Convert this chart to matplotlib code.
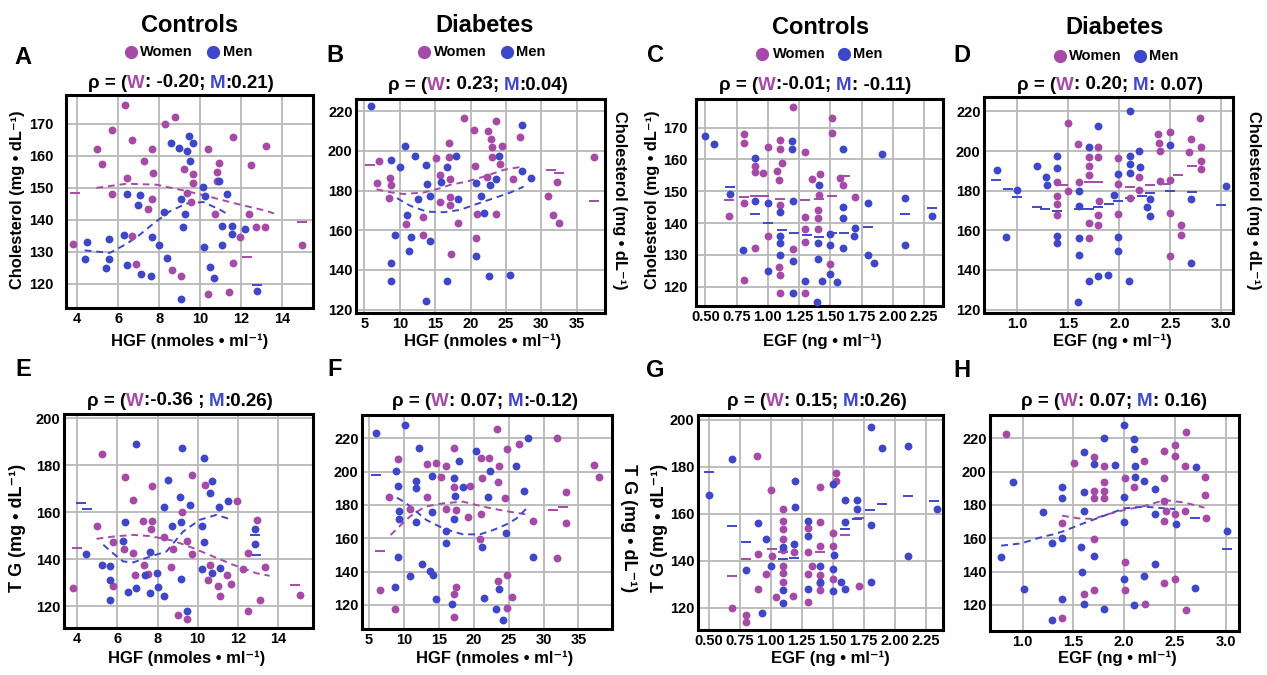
import matplotlib
matplotlib.use('Agg')
import matplotlib.pyplot as plt
from matplotlib.lines import Line2D

plt.rcParams['font.family'] = ['Liberation Sans', 'DejaVu Sans']
plt.rcParams['font.weight'] = 'bold'

W, H = 1267, 675
women_c = '#a54ba7'
men_c = '#3f47c9'

# ---- panel A : cholesterol vs HGF, controls
a_wx = [6.33, 8.76, 8.28, 5.72, 4.98, 6.68, 7.63, 5.22, 7.27, 7.71, 6.41, 9.2, 9.66, 9.66, 5.72, 9.37, 9.53, 7.63, 7.46, 10.4,
        11.6, 13.2, 10.9, 10.8, 12.5, 10.8, 10.7, 12.4, 12.7, 13.15, 11.95, 11.6, 11.4, 10.36, 9.06, 8.62, 6.89, 6.67, 3.8, 14.94]
a_wy = [176.0, 172.1, 169.8, 168.2, 162.2, 164.9, 162.2, 157.6, 158.3, 154.7, 153.1, 156.0, 154.2, 151.6, 148.2, 148.4, 145.6, 146.4, 143.5, 162.2,
        166.0, 163.0, 157.8, 155.0, 157.0, 152.1, 141.7, 141.7, 137.7, 137.7, 134.7, 126.4, 117.5, 116.9, 122.6, 124.3, 126.3, 135.1, 132.5, 132.1]
a_mx = [9.46, 9.66, 8.57, 8.98, 9.38, 9.5, 10.15, 10.93, 10.23, 11.33, 9.09, 9.25, 8.24, 6.41, 7.06, 6.98, 7.63, 7.97, 9.17, 6.29,
        5.56, 4.5, 4.37, 5.54, 5.4, 6.44, 7.14, 7.59, 8.36, 9.09, 10.2, 11.04, 11.08, 11.53, 11.53, 12.2, 10.5, 10.65, 12.75]
a_my = [166.1, 163.9, 164.1, 162.3, 161.4, 158.5, 150.2, 152.3, 147.4, 148.2, 146.4, 141.7, 142.5, 148.1, 147.7, 144.8, 134.6, 132.1, 137.8, 135.4,
        134.1, 133.0, 127.8, 127.8, 125.0, 126.0, 123.2, 122.4, 128.1, 115.3, 131.6, 132.1, 138.2, 138.0, 135.5, 137.3, 125.3, 121.9, 117.7]
a_wfx = [4.94, 6.41, 7.87, 9.33, 10.31, 11.61, 13.24, 13.6]
a_wfy = [150.0, 151.3, 151.0, 149.0, 147.5, 145.3, 142.8, 142.0]
a_mfx = [4.37, 5.59, 6.41, 7.06, 7.71, 8.52, 9.33, 10.15, 10.96, 11.45]
a_mfy = [130.5, 129.7, 132.5, 135.4, 138.8, 142.7, 145.1, 145.6, 143.2, 141.4]
a_wdx, a_wdy = [3.9, 12.26, 14.94], [148.5, 128.3, 139.3]
a_mdx, a_mdy = [12.75], [119.6]

# ---- panel B : cholesterol vs HGF, diabetes
b_wx = [37.4, 19.0, 23.6, 20.5, 22.5, 27.0, 22.9, 23.0, 16.9, 24.5, 23.0, 16.9, 15.1, 20.6, 24.2, 7.1, 8.6, 8.7, 6.7, 8.4,
        15.7, 17.1, 22.3, 26.0, 32.2, 31.0, 15.7, 17.1, 17.1, 13.3, 10.8, 13.3, 18.2, 20.9, 23.6, 31.6, 32.5, 20.7, 17.2]
b_wy = [197.2, 216.6, 214.9, 210.4, 209.9, 206.8, 206.2, 201.8, 204.0, 202.6, 197.2, 197.2, 196.7, 192.2, 193.4, 194.7, 186.6, 182.9, 183.7, 176.2,
        188.0, 185.9, 187.1, 185.8, 184.1, 177.3, 174.1, 177.0, 172.8, 166.9, 163.2, 157.6, 163.8, 168.1, 168.1, 167.6, 163.8, 155.9, 147.8]
b_mx = [5.9, 27.2, 10.7, 8.8, 10.0, 12.2, 17.9, 13.7, 16.7, 24.0, 27.2, 28.5, 23.6, 15.8, 13.8, 20.8, 22.8, 14.3, 21.4, 12.5,
        18.2, 11.0, 21.9, 9.3, 11.6, 14.3, 11.3, 20.8, 8.7, 8.7, 16.6, 22.6, 25.6, 13.7]
b_my = [222.9, 213.3, 202.6, 195.5, 191.8, 197.6, 197.6, 192.7, 191.7, 197.6, 190.0, 186.3, 185.9, 184.1, 183.2, 183.7, 182.6, 177.3, 177.5, 175.6,
        175.8, 167.6, 168.6, 157.6, 156.4, 154.6, 149.7, 147.0, 143.3, 134.5, 134.3, 137.2, 137.7, 124.2]
b_wfx = [6.7, 8.6, 10.5, 13.3, 15.2, 17.1, 19.5, 21.8, 24.7, 27.5]
b_wfy = [180.7, 179.2, 178.3, 179.0, 180.7, 182.9, 184.6, 187.0, 190.5, 192.2]
b_mfx = [9.6, 11.5, 13.8, 16.2, 18.5, 20.9, 23.3, 25.6, 27.5]
b_mfy = [176.2, 172.3, 169.4, 169.1, 170.3, 173.3, 176.2, 179.0, 182.0]
b_wdx, b_wdy = [5.8, 31.3, 32.5, 37.4], [193.0, 190.5, 188.8, 174.8]
b_mdx, b_mdy = [], []

# ---- panel C : cholesterol vs EGF, controls
c_wx = [1.20, 1.51, 1.51, 0.81, 0.81, 1.10, 1.00, 1.10, 1.30, 0.90, 0.96, 0.90, 1.07, 1.11, 1.09, 1.35, 1.42, 1.58, 1.60, 1.41,
        1.70, 0.81, 1.10, 0.69, 1.40, 1.40, 1.30, 1.30, 1.40, 1.00, 1.30, 0.90, 1.20, 1.09, 1.10, 1.50, 0.81, 1.10, 1.30]
c_wy = [176.4, 172.9, 168.4, 167.9, 165.3, 166.1, 163.8, 163.3, 162.2, 157.9, 155.6, 156.0, 156.2, 158.8, 153.5, 153.9, 155.3, 154.3, 151.8, 148.9,
        148.1, 146.2, 145.7, 142.2, 144.1, 141.6, 141.8, 138.2, 138.2, 136.0, 133.9, 132.1, 131.8, 126.3, 123.7, 127.1, 122.1, 117.9, 117.9]
c_mx = [0.50, 0.57, 1.19, 1.19, 1.60, 1.91, 0.90, 1.41, 0.70, 0.90, 1.00, 1.20, 1.60, 2.10, 1.80, 2.31, 1.10, 1.60, 1.70, 1.69,
        1.50, 1.50, 1.60, 1.10, 1.10, 1.40, 2.10, 0.80, 1.10, 1.40, 1.20, 1.80, 1.85, 1.00, 1.50, 1.43, 1.55, 1.30, 1.20, 1.39]
c_my = [167.5, 164.9, 165.9, 163.4, 163.3, 161.7, 160.6, 151.8, 149.0, 147.0, 146.2, 147.0, 144.9, 148.0, 146.4, 142.2, 143.4, 141.5, 138.4, 136.0,
        136.5, 133.1, 132.1, 136.0, 133.6, 133.8, 133.1, 131.5, 130.0, 128.6, 128.1, 130.0, 127.3, 124.9, 123.9, 121.9, 121.4, 121.9, 117.9, 115.1]
c_wfx = [0.69, 0.81, 0.90, 0.97, 1.10, 1.30, 1.41, 1.51, 1.62]
c_wfy = [147.3, 148.3, 148.6, 148.5, 147.6, 147.3, 147.5, 148.6, 154.9]
c_mfx = [0.70, 0.90, 1.00, 1.11, 1.21, 1.31, 1.41, 1.51, 1.61, 1.80, 2.10, 2.31]
c_mfy = [151.4, 142.9, 140.1, 137.8, 136.8, 136.2, 135.7, 136.8, 136.8, 138.9, 142.9, 144.6]

# ---- panel D : cholesterol vs EGF, diabetes
d_wx = [1.50, 2.79, 2.50, 2.38, 2.39, 2.40, 1.59, 1.79, 1.70, 1.79, 1.70, 1.70, 1.99, 2.70, 2.68, 2.80, 2.80, 2.80, 2.19, 2.40,
        2.50, 1.39, 1.60, 1.39, 1.50, 1.99, 2.19, 2.10, 1.39, 1.39, 1.80, 1.79, 1.99, 1.70, 1.79, 1.70, 2.50, 2.60, 2.60, 2.50]
d_wy = [214.4, 216.8, 209.5, 208.4, 204.3, 200.3, 203.5, 202.3, 197.2, 197.2, 192.7, 187.8, 196.4, 206.2, 199.6, 202.3, 195.0, 190.8, 186.8, 184.9,
        185.4, 184.2, 184.6, 177.5, 180.0, 183.4, 180.4, 176.2, 173.1, 167.7, 174.6, 167.7, 168.1, 163.5, 162.7, 156.3, 168.6, 162.5, 157.9, 147.2]
d_mx = [2.10, 1.79, 2.50, 1.70, 1.39, 2.10, 2.19, 1.19, 1.39, 1.28, 1.29, 2.10, 1.99, 2.10, 2.20, 0.80, 1.00, 1.60, 1.95, 2.30,
        2.70, 2.27, 2.30, 3.05, 1.60, 0.89, 1.39, 1.39, 1.60, 1.99, 1.99, 1.60, 2.70, 1.70, 1.79, 1.89, 2.09, 1.59]
d_my = [220.0, 212.7, 203.1, 202.3, 197.6, 197.6, 200.1, 192.5, 191.7, 187.1, 182.9, 193.4, 188.3, 189.1, 192.2, 190.5, 180.4, 180.0, 177.8, 175.8,
        175.8, 171.6, 167.2, 182.6, 172.3, 156.4, 157.4, 153.6, 156.3, 156.9, 149.5, 147.5, 143.3, 134.3, 136.9, 137.4, 134.7, 123.9]
d_wfx = [1.45, 1.70, 1.79, 2.10, 2.30, 2.45, 2.58, 2.71]
d_wfy = [182.9, 184.6, 184.2, 182.1, 182.9, 183.4, 188.0, 192.7]
d_mfx = [0.79, 0.91, 1.0, 1.19, 1.27, 1.39, 1.60, 1.70, 1.79, 1.90, 1.99, 2.10, 2.22, 2.30, 2.50, 2.71, 3.0]
d_mfy = [185.4, 180.9, 176.7, 171.9, 170.8, 169.9, 170.6, 171.0, 171.9, 173.3, 174.8, 176.2, 177.4, 178.7, 180.0, 179.2, 172.9]

# ---- panel E : TG vs HGF, controls
e_wx = [5.21, 6.40, 9.69, 7.73, 10.35, 6.79, 11.96, 4.96, 7.28, 7.73, 7.65, 9.22, 5.76, 6.32, 6.79, 8.33, 8.78, 9.47, 9.69, 7.33,
        6.87, 7.50, 8.69, 10.63, 10.51, 11.0, 11.1, 11.48, 11.64, 12.26, 12.51, 12.96, 13.37, 13.12, 12.51, 5.79, 3.80, 9.02, 9.47, 15.08]
e_wy = [184.8, 175.2, 175.9, 171.0, 171.7, 165.3, 165.0, 154.2, 156.1, 156.4, 153.0, 160.1, 147.3, 144.5, 142.9, 149.7, 144.5, 147.6, 142.1, 137.4,
        133.4, 133.9, 136.7, 137.7, 131.3, 128.5, 124.5, 133.4, 129.6, 135.8, 142.6, 156.8, 136.7, 122.8, 118.1, 128.5, 127.8, 116.4, 114.7, 124.9]
e_mx = [6.95, 9.22, 10.32, 8.53, 10.73, 10.60, 9.14, 9.61, 11.06, 11.53, 8.31, 6.40, 9.17, 8.73, 10.19, 10.31, 12.87, 12.87, 6.29, 7.62,
        4.46, 5.24, 5.63, 5.63, 5.63, 10.22, 10.73, 11.13, 9.16, 7.98, 8.0, 7.35, 6.95, 6.54, 7.62, 8.33, 9.47]
e_my = [189.0, 187.5, 183.3, 173.8, 173.1, 168.1, 166.3, 163.2, 162.2, 165.0, 162.2, 155.7, 155.8, 154.3, 154.3, 147.2, 153.0, 146.6, 147.9, 143.1,
        142.4, 137.4, 137.0, 131.3, 122.5, 135.8, 134.4, 136.5, 131.7, 134.1, 128.2, 133.3, 128.0, 126.3, 125.6, 124.6, 118.1]
e_wfx = [4.96, 5.79, 6.79, 7.62, 8.78, 9.77, 10.77, 11.76, 12.92, 13.58]
e_wfy = [148.7, 149.7, 150.4, 149.9, 147.9, 144.8, 141.2, 137.7, 134.1, 133.0]
e_mfx = [5.3, 5.63, 6.29, 6.79, 7.78, 8.44, 9.27, 10.10, 10.93, 11.6]
e_mfy = [146.2, 143.6, 139.1, 138.7, 141.6, 143.3, 151.8, 156.8, 158.9, 157.1]
e_wdx, e_wdy = [4.0, 14.83], [144.8, 129.2]
e_mdx, e_mdy = [4.2, 4.5, 12.84, 12.92], [163.9, 161.5, 150.4, 141.9]

# ---- panel F : TG vs HGF, diabetes
f_wx = [23.37, 31.89, 26.53, 24.71, 17.20, 21.03, 22.18, 9.16, 13.33, 14.57, 16.0, 23.61, 37.25, 37.97, 15.28, 21.22, 23.52, 17.15, 19.45, 7.87,
        13.33, 24.47, 33.2, 10.84, 16.0, 17.44, 19.16, 21.03, 28.49, 33.25, 20.89, 31.89, 23.52, 24.71, 17.39, 17.20, 25.43, 6.53, 8.68, 24.71, 17.20]
f_wy = [225.4, 220.0, 216.4, 213.6, 214.4, 208.0, 208.0, 207.4, 204.4, 205.4, 203.6, 203.6, 204.0, 196.6, 197.0, 196.0, 194.0, 190.6, 191.4, 185.0,
        184.6, 184.4, 187.6, 177.6, 177.6, 177.0, 173.0, 174.6, 170.4, 169.4, 159.6, 148.4, 134.6, 138.0, 130.6, 126.4, 124.6, 129.0, 117.4, 118.0, 112.6]
f_mx = [6.05, 10.22, 12.18, 27.82, 20.31, 17.92, 22.32, 26.05, 8.92, 11.70, 14.09, 17.15, 9.21, 11.70, 18.49, 17.30, 22.03, 27.25, 9.31, 9.31,
        14.0, 11.70, 17.15, 16.0, 16.0, 21.22, 24.62, 28.49, 9.16, 12.61, 13.71, 10.84, 14.14, 8.78, 14.57, 16.91, 21.46, 23.66, 23.13, 24.14]
f_my = [223.4, 228.0, 214.4, 220.4, 212.6, 206.4, 200.4, 203.6, 200.4, 194.6, 197.4, 196.0, 191.6, 190.0, 190.6, 185.4, 184.6, 188.4, 176.4, 171.6,
        175.6, 170.0, 171.4, 164.6, 157.4, 154.6, 163.0, 149.0, 149.0, 144.4, 140.6, 137.4, 138.0, 130.6, 123.4, 120.4, 124.0, 129.6, 117.4, 111.0]
f_wfx = [8.1, 9.16, 10.84, 12.99, 15.62, 18.49, 21.36, 23.75, 25.67, 28.06]
f_wfy = [162.0, 166.4, 173.0, 179.0, 181.0, 182.0, 179.0, 177.0, 175.6, 174.0]
f_mfx = [9.0, 10.36, 11.79, 13.23, 15.14, 17.06, 18.49, 20.89, 22.80, 24.71, 26.15, 27.58]
f_mfy = [184.4, 181.0, 176.0, 171.0, 167.0, 164.0, 162.4, 162.4, 165.0, 168.4, 172.0, 178.0]
f_wdx, f_wdy = [6.53, 31.4, 32.85], [152.6, 177.0, 179.0]
f_mdx, f_mdy = [6.05], [198.0]

# ---- panel G : TG vs EGF, controls
g_wx = [0.89, 1.00, 1.10, 1.10, 1.10, 1.10, 1.10, 1.10, 1.10, 1.10, 1.40, 1.53, 1.53, 1.40, 1.30, 1.50, 1.40, 1.50, 1.19, 1.30,
        0.90, 1.01, 1.33, 1.30, 1.40, 1.50, 0.96, 0.90, 1.04, 1.18, 1.30, 1.40, 1.40, 1.71, 0.69, 0.80, 0.80]
g_wy = [184.8, 170.2, 162.1, 157.0, 153.4, 149.3, 144.6, 137.9, 134.7, 131.1, 171.3, 177.3, 174.0, 156.7, 154.1, 152.0, 146.4, 146.4, 143.6, 143.6,
        142.9, 142.2, 137.9, 134.2, 133.9, 132.1, 134.2, 128.0, 124.7, 125.0, 122.6, 127.6, 130.7, 129.1, 120.0, 116.9, 114.1]
g_mx = [1.81, 1.90, 2.11, 0.69, 0.50, 1.20, 1.20, 1.50, 1.60, 1.70, 1.70, 1.60, 1.81, 2.34, 0.90, 1.30, 1.30, 1.19, 1.10, 0.96,
        1.51, 2.11, 0.80, 1.00, 1.40, 1.50, 1.40, 1.57, 1.60, 1.50, 1.81, 1.30, 1.10, 1.10, 0.93]
g_my = [197.2, 188.2, 189.1, 183.2, 168.0, 174.0, 163.1, 172.7, 165.9, 165.9, 162.1, 156.3, 155.3, 162.1, 156.0, 157.1, 150.6, 147.2, 146.0, 149.3,
        142.5, 142.2, 136.1, 137.9, 137.9, 136.4, 130.8, 131.1, 127.8, 127.1, 130.8, 128.0, 127.6, 122.2, 117.9]
g_wfx = [0.69, 0.80, 1.01, 1.10, 1.40, 1.60, 1.71]
g_wfy = [133.5, 140.6, 144.9, 143.9, 143.6, 151.0, 158.1]
g_mfx = [0.50, 0.69, 0.80, 1.10, 1.19, 1.60, 1.70, 1.80, 1.90, 2.11, 2.32]
g_mfy = [177.7, 155.0, 148.2, 140.6, 141.1, 153.4, 157.7, 161.6, 164.2, 167.8, 165.6]

# ---- panel H : TG vs EGF, diabetes
h_wx = [0.84, 2.61, 2.50, 2.39, 2.50, 2.60, 2.80, 2.80, 2.81, 2.61, 2.50, 2.39, 2.39, 2.39, 2.41, 2.39, 2.50, 2.60, 1.51, 1.70,
        1.80, 1.80, 1.70, 1.80, 1.70, 1.80, 2.01, 2.10, 2.20, 1.39, 1.70, 2.01, 2.01, 1.70, 1.60, 1.39, 2.21]
h_wy = [222.6, 224.0, 216.0, 212.6, 209.4, 203.4, 196.6, 186.0, 172.0, 117.0, 135.6, 133.0, 196.0, 182.6, 176.6, 170.4, 174.6, 176.6, 205.4, 209.0,
        203.6, 194.0, 188.6, 188.6, 184.4, 184.4, 196.0, 191.0, 206.4, 169.4, 159.6, 146.0, 129.0, 129.0, 126.6, 112.4, 120.4]
h_mx = [2.00, 1.80, 2.10, 2.10, 1.60, 1.70, 1.91, 2.11, 2.71, 0.91, 1.39, 1.39, 1.60, 2.11, 2.20, 2.30, 2.00, 2.00, 1.20, 1.60,
        2.30, 2.51, 3.01, 1.29, 1.39, 1.58, 1.70, 1.59, 0.79, 1.01, 1.39, 1.60, 1.80, 2.00, 2.20, 2.30, 2.10, 1.29, 2.70]
h_my = [228.0, 220.0, 219.6, 213.6, 212.0, 204.4, 204.0, 203.4, 202.6, 193.6, 191.0, 184.0, 188.0, 197.0, 194.6, 189.4, 184.6, 169.6, 176.0, 176.4,
        174.4, 168.4, 164.6, 157.0, 160.0, 155.0, 149.4, 140.0, 149.0, 129.6, 123.4, 120.4, 117.4, 135.6, 137.4, 144.4, 120.0, 111.0, 130.0]
h_wfx = [1.39, 1.55, 1.70, 1.81, 2.00, 2.20, 2.40, 2.60, 2.79]
h_wfy = [173.6, 172.0, 171.6, 174.0, 177.0, 179.4, 183.0, 181.4, 178.4]
h_mfx = [0.79, 0.99, 1.20, 1.32, 1.39, 1.60, 2.00, 2.20, 2.40, 2.50]
h_mfy = [155.6, 157.0, 161.0, 162.6, 164.0, 169.0, 178.0, 179.0, 178.0, 177.6]
h_mdx, h_mdy = [2.70, 3.01], [172.0, 153.6]

hgf_ticks = [4, 6, 8, 10, 12, 14]
hgf_ticks_d = [5, 10, 15, 20, 25, 30, 35]
egf_ticks = [0.5, 0.75, 1.0, 1.25, 1.5, 1.75, 2.0, 2.25]
egf_ticks_d = [1.0, 1.5, 2.0, 2.5, 3.0]

fig = plt.figure(figsize=(W / 100, H / 100), dpi=100)


def px(x):
    return x / W


def py(y):
    return 1 - y / H


def panel(box, wx, wy, mx, my, wf, mf, xlim, ylim, xticks, yticks, xfmt,
          lines=True, wd=([], []), md=([], []), ypad=2.5):
    l, t, r, b = box
    ax = fig.add_axes([l / W, 1 - b / H, (r - l) / W, (b - t) / H])
    ax.set_xlim(xlim)
    ax.set_ylim(ylim)
    ax.set_xticks(xticks)
    ax.set_xticklabels([xfmt.format(v) for v in xticks])
    ax.set_yticks(yticks)
    ax.grid(True, color='#b8b8b8', lw=1.3)
    ax.set_axisbelow(True)
    for s in ax.spines.values():
        s.set_linewidth(2.2)
    ax.tick_params(length=0, labelsize=10.5)
    ax.tick_params(axis='x', pad=3)
    ax.tick_params(axis='y', pad=ypad)
    if lines:
        ax.plot(wf[0], wf[1], color=women_c, lw=1.4, ls=(0, (3.5, 2.5)), zorder=2)
        ax.plot(mf[0], mf[1], color=men_c, lw=1.4, ls=(0, (3.5, 2.5)), zorder=2)
    else:
        ax.plot(wf[0], wf[1], '_', color=women_c, ms=7, mew=1.4, zorder=2)
        ax.plot(mf[0], mf[1], '_', color=men_c, ms=7, mew=1.4, zorder=2)
    ax.plot(wd[0], wd[1], '_', color=women_c, ms=7, mew=1.4, zorder=2)
    ax.plot(md[0], md[1], '_', color=men_c, ms=7, mew=1.4, zorder=2)
    ax.scatter(wx, wy, s=32, color=women_c, lw=0, zorder=3)
    ax.scatter(mx, my, s=32, color=men_c, lw=0, zorder=3)
    return ax


panel((66, 95, 313, 308), a_wx, a_wy, a_mx, a_my, (a_wfx, a_wfy), (a_mfx, a_mfy),
      (3.46, 15.5), (112.5, 179), hgf_ticks, [120, 130, 140, 150, 160, 170], '{:g}',
      wd=(a_wdx, a_wdy), md=(a_mdx, a_mdy), ypad=9)
panel((356, 99, 605, 313), b_wx, b_wy, b_mx, b_my, (b_wfx, b_wfy), (b_mfx, b_mfy),
      (3.8, 39.0), (118.3, 226.2), hgf_ticks_d, [120, 140, 160, 180, 200, 220], '{:g}',
      wd=(b_wdx, b_wdy), md=(b_mdx, b_mdy))
panel((696, 99, 943, 306), c_wx, c_wy, c_mx, c_my, (c_wfx, c_wfy), (c_mfx, c_mfy),
      (0.425, 2.40), (113.9, 179.0), egf_ticks, [120, 130, 140, 150, 160, 170], '{:.2f}',
      lines=False, ypad=6)
panel((984, 97, 1233, 313), d_wx, d_wy, d_mx, d_my, (d_wfx, d_wfy), (d_mfx, d_mfy),
      (0.672, 3.115), (118.3, 227.3), egf_ticks_d, [120, 140, 160, 180, 200, 220], '{:.1f}', lines=False)
panel((64, 414, 313, 628), e_wx, e_wy, e_mx, e_my, (e_wfx, e_wfy), (e_mfx, e_mfy),
      (3.34, 15.74), (110.8, 201.8), hgf_ticks, [120, 140, 160, 180, 200], '{:g}',
      wd=(e_wdx, e_wdy), md=(e_mdx, e_mdy))
panel((362, 415, 612, 629), f_wx, f_wy, f_mx, f_my, (f_wfx, f_wfy), (f_mfx, f_mfy),
      (4.0, 39.8), (105.6, 234), hgf_ticks_d, [120, 140, 160, 180, 200, 220], '{:g}',
      wd=(f_wdx, f_wdy), md=(f_mdx, f_mdy))
panel((698, 415, 943, 630), g_wx, g_wy, g_mx, g_my, (g_wfx, g_wfy), (g_mfx, g_mfy),
      (0.414, 2.39), (110.5, 202.1), egf_ticks, [120, 140, 160, 180, 200], '{:.2f}', lines=False)
panel((990, 415, 1239, 631), h_wx, h_wy, h_mx, h_my, (h_wfx, h_wfy), (h_mfx, h_mfy),
      (0.68, 3.13), (104.4, 234), egf_ticks_d, [120, 140, 160, 180, 200, 220], '{:.1f}',
      md=(h_mdx, h_mdy))

# ---- texts
renderer = fig.canvas.get_renderer()


def text_w(s, size):
    t = fig.text(0, 0, s + 'x', fontsize=size, fontweight='bold')
    w = t.get_window_extent(renderer).width
    t.remove()
    t = fig.text(0, 0, 'x', fontsize=size, fontweight='bold')
    w -= t.get_window_extent(renderer).width
    t.remove()
    return w


def rho(cx, cy, w_val, m_val, size=13.5):
    parts = [('ρ = (', 'black'), ('W', women_c), (w_val, 'black'), ('M', men_c), (m_val, 'black')]
    full = ''.join(p[0] for p in parts)
    left = cx - text_w(full, size) / 2
    pre = ''
    for s, c in parts:
        fig.text(px(left + text_w(pre, size)), py(cy), s, color=c, fontsize=size,
                 fontweight='bold', ha='left', va='center')
        pre += s


rho(181, 83, ': -0.20; ', ':0.21)')
rho(478, 85, ': 0.23; ', ':0.04)')
rho(815, 85, ':-0.01; ', ': -0.11)')
rho(1110, 85, ': 0.20; ', ': 0.07)')
rho(180, 401, ':-0.36 ; ', ':0.26)')
rho(485, 402, ': 0.07; ', ':-0.12)')
rho(817, 402, ': 0.15; ', ':0.26)')
rho(1114, 402, ': 0.07; ', ': 0.16)')

for x, y, s in [(190, 25, 'Controls'), (485, 25, 'Diabetes'), (821, 28, 'Controls'), (1115, 28, 'Diabetes')]:
    fig.text(px(x), py(y), s, fontsize=17, fontweight='bold', ha='center', va='center')

for wc, wt, mc, mt, y in [(131, 140, 213, 223, 52), (424, 434, 507, 516, 52),
                          (762, 773, 844, 853, 54), (1060, 1069, 1140, 1149, 56)]:
    fig.add_artist(Line2D([px(wc)], [py(y)], marker='o', ms=8.5, color=women_c, ls='none',
                          transform=fig.transFigure))
    fig.add_artist(Line2D([px(mc)], [py(y)], marker='o', ms=8.5, color=men_c, ls='none',
                          transform=fig.transFigure))
    fig.text(px(wt), py(y), 'Women', fontsize=10.5, fontweight='bold', ha='left', va='center')
    fig.text(px(mt), py(y), 'Men', fontsize=10.5, fontweight='bold', ha='left', va='center')

for x, y, s in [(23, 57, 'A'), (335, 55, 'B'), (655, 55, 'C'), (962, 55, 'D'),
                (23, 370, 'E'), (335, 370, 'F'), (655, 371, 'G'), (962, 371, 'H')]:
    fig.text(px(x), py(y), s, fontsize=17, fontweight='bold', ha='center', va='center')

hgf = 'HGF (nmoles \u2022 ml\u207b\u00b9)'
egf = 'EGF (ng \u2022 ml\u207b\u00b9)'
chol = 'Cholesterol (mg \u2022 dL\u207b\u00b9)'
tg = 'T G (mg \u2022 dL\u207b\u00b9)'
for x, y, s in [(190, 341, hgf), (483, 341, hgf), (822, 341, egf), (1112, 341, egf),
                (187, 658, hgf), (495, 658, hgf), (830, 658, egf), (1117, 658, egf)]:
    fig.text(px(x), py(y), s, fontsize=12, fontweight='bold', ha='center', va='center')
for x, y, s, rot in [(18, 200, chol, 90), (620, 200, chol, 270), (652, 200, chol, 90), (1254, 200, chol, 270)]:
    fig.text(px(x), py(y), s, fontsize=11.8, fontweight='bold', ha='center', va='center', rotation=rot)
for x, y, s, rot in [(18, 528, tg, 90), (628, 528, tg, 270), (659, 528, tg, 90)]:
    fig.text(px(x), py(y), s, fontsize=13, fontweight='bold', ha='center', va='center', rotation=rot)

fig.savefig('out.png', dpi=100)
